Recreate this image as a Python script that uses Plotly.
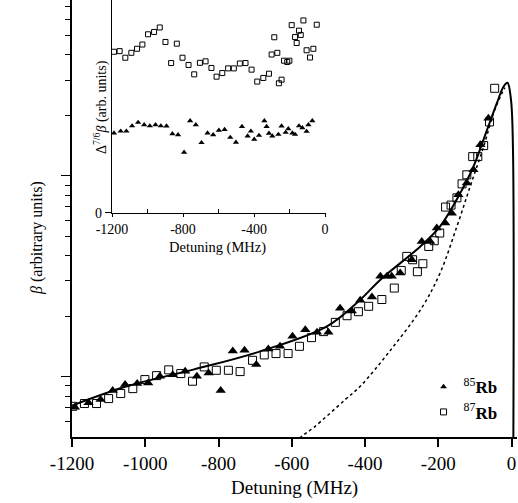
import plotly.graph_objects as go

# main panel data, detuning in MHz, beta in arb. units (log axis)
rb85_x = [-1192, -1155, -1122, -1089, -1055, -1022, -992, -960, -925, -891, -859, -827, -794,
          -761, -729, -697, -664, -632, -598, -563, -531, -500, -468, -436, -413, -381, -358,
          -340, -327, -304, -272, -245, -222, -204, -181, -163, -145, -122, -104, -85, -63]
rb85_y = [0.703, 0.740, 0.768, 0.852, 0.912, 0.923, 0.929, 1.003, 1.02, 1.063, 1.003, 1.043, 0.852,
          1.342, 1.352, 1.147, 1.374, 1.415, 1.587, 1.713, 1.661, 1.661, 2.187, 2.124, 2.399, 2.49, 3.16,
          3.16, 3.16, 3.28, 3.82, 4.71, 4.71, 5.49, 5.82, 6.52, 8.05, 9.2, 10.71, 14.27, 19.37]

rb87_x = [-1198, -1166, -1133, -1100, -1067, -1034, -1001, -969, -936, -903, -871, -839, -806,
          -773, -741, -707, -675, -643, -610, -579, -546, -513, -481, -449, -418, -390, -354,
          -320, -301, -286, -270, -257, -242, -226, -211, -196, -180, -165, -149, -135, -122,
          -106, -92, -76, -60, -46]
rb87_y = [0.711, 0.734, 0.734, 0.777, 0.823, 0.871, 0.966, 1.011, 1.08, 1.035, 0.948, 1.117, 1.075,
          1.075, 1.059, 1.205, 1.282, 1.302, 1.302, 1.415, 1.563, 1.675, 1.862, 2.01, 2.105, 2.24, 2.42,
          2.76, 3.38, 3.97, 3.82, 3.33, 3.65, 4.45, 4.75, 5.19, 6.99, 7.15, 7.77, 9.12, 10.12,
          12.47, 12.47, 14.15, 18.56, 27.3]

# theory curves
fit_x = [-1200, -1050, -869, -686, -504, -413, -358, -249, -195, -140, -104, -67, -40, -22, -11, -1.4, 4, 5]
fit_y = [0.717, 0.895, 1.083, 1.336, 1.779, 2.416, 3.04, 4.45, 5.6, 8.2, 11.1, 16.9, 23.0, 27.8, 29.1, 23.9, 13.5, 0.45]

dot_x = [-590, -572, -541, -454, -413, -331, -245, -195, -149, -113, -76, -49, -26, -18]
dot_y = [0.47, 0.505, 0.556, 0.768, 0.895, 1.35, 2.20, 3.28, 5.6, 8.85, 14.0, 20.5, 25.8, 27.5]

# inset: Delta^(7/6) * beta
in87_x = [-1189, -1157, -1125, -1091, -1059, -1029, -997, -963, -931, -899, -867, -835, -803, -769,
          -737, -705, -673, -640, -611, -579, -546, -514, -480, -448, -414, -382, -348, -316, -301,
          -286, -269, -260, -245, -231, -213, -201, -188, -169, -160, -147, -137, -122, -104, -85, -66, -47]
in87_y = [7.57, 7.60, 7.29, 7.52, 7.71, 7.91, 8.39, 8.50, 8.71, 8.03, 7.04, 7.95, 7.29, 6.95,
          6.51, 7.05, 7.12, 6.81, 6.40, 6.57, 6.79, 6.79, 7.02, 7.04, 6.73, 6.17, 6.34, 6.54, 7.44,
          8.25, 7.52, 6.09, 6.26, 7.15, 7.09, 7.15, 8.82, 8.26, 7.98, 8.56, 8.36, 9.04, 7.64, 7.30, 7.71, 8.84]

in85_x = [-1189, -1151, -1119, -1087, -1053, -1019, -987, -955, -925, -893, -860, -828, -794, -760,
          -728, -696, -662, -630, -598, -566, -534, -502, -468, -436, -418, -399, -372, -342, -329,
          -316, -297, -263, -245, -222, -207, -184, -169, -147, -128, -104, -94, -72]
in85_y = [3.75, 3.84, 3.84, 4.09, 4.25, 4.14, 4.09, 4.14, 4.09, 4.08, 3.72, 3.67, 2.85, 4.33,
          4.14, 3.30, 3.75, 3.67, 3.88, 3.92, 3.55, 3.32, 4.06, 3.61, 3.84, 3.46, 3.64, 4.33, 4.06,
          3.74, 3.61, 3.69, 4.08, 3.78, 3.95, 3.75, 3.69, 4.09, 4.0, 3.83, 4.14, 4.33]

main_xticks = [-1200, -1000, -800, -600, -400, -200, 0]
inset_xticks = [-1200, -800, -400, 0]
minor_y = [0.6, 0.7, 0.8, 0.9, 2, 3, 4, 5, 6, 7, 8, 9, 20, 30, 40, 50, 60, 70]

FONT = "Liberation Serif"

fig = go.Figure()

fig.add_trace(go.Scatter(x=fit_x, y=fit_y, mode="lines", line=dict(color="black", width=2, shape="spline"),
                         showlegend=False))
fig.add_trace(go.Scatter(x=dot_x, y=dot_y, mode="lines", line=dict(color="black", width=1.5, dash="dot", shape="spline"),
                         showlegend=False))
fig.add_trace(go.Scatter(x=rb87_x, y=rb87_y, mode="markers", showlegend=False,
                         marker=dict(symbol="square-open", size=8, color="black", line=dict(width=1))))
fig.add_trace(go.Scatter(x=rb85_x, y=rb85_y, mode="markers", showlegend=False,
                         marker=dict(symbol="triangle-up", size=9, color="black")))
# legend entries (smaller markers like the original key)
fig.add_trace(go.Scatter(x=[None], y=[None], mode="markers", name="<sup>85</sup><b>Rb</b>",
                         marker=dict(symbol="triangle-up", size=6, color="black")))
fig.add_trace(go.Scatter(x=[None], y=[None], mode="markers", name="<sup>87</sup><b>Rb</b>",
                         marker=dict(symbol="square-open", size=6, color="black", line=dict(width=1))))

# inset
fig.add_trace(go.Scatter(x=in87_x, y=in87_y, mode="markers", xaxis="x2", yaxis="y2", showlegend=False,
                         marker=dict(symbol="square-open", size=5, color="black", line=dict(width=1))))
fig.add_trace(go.Scatter(x=in85_x, y=in85_y, mode="markers", xaxis="x2", yaxis="y2", showlegend=False,
                         marker=dict(symbol="triangle-up", size=5.5, color="black")))

fig.update_layout(
    width=518, height=503,
    margin=dict(l=72, r=1, t=0, b=66),
    paper_bgcolor="white", plot_bgcolor="white",
    font=dict(family=FONT, color="black", size=19),
    xaxis=dict(range=[-1200, 15], showline=True, linecolor="black", linewidth=1.5,
               ticks="outside", ticklen=8, tickwidth=1.5, tickcolor="black",
               tickvals=main_xticks, ticktext=[str(v) for v in main_xticks],
               showgrid=False, zeroline=False, tickfont=dict(size=19)),
    yaxis=dict(type="log", range=[-0.301, 1.876], showline=True, linecolor="black", linewidth=1.5,
               ticks="outside", ticklen=9, tickwidth=1.2, tickcolor="black", tickvals=[1, 10],
               showticklabels=False, showgrid=False, zeroline=False,
               minor=dict(tickvals=minor_y, ticks="outside", ticklen=5, tickwidth=1, tickcolor="black",
                          showgrid=False)),
    xaxis2=dict(domain=[0.0899, 0.5719], anchor="y2", range=[-1200, 8], showline=True, linecolor="black",
                linewidth=1.3, ticks="outside", ticklen=3, tickwidth=1, tickcolor="black",
                tickvals=inset_xticks, ticktext=[str(v) for v in inset_xticks],
                showgrid=False, zeroline=False, tickfont=dict(size=14),
                minor=dict(tickvals=[-1000, -600, -200], ticks="inside", ticklen=4, tickcolor="black",
                           showgrid=False)),
    yaxis2=dict(domain=[0.5126, 1], anchor="x2", range=[0, 10], showline=True, linecolor="black",
                linewidth=1.3, ticks="outside", ticklen=6, tickcolor="black", tickvals=[0], ticktext=["0"],
                showgrid=False, zeroline=False, tickfont=dict(size=14)),
    legend=dict(x=0.79, y=0.155, xanchor="left", yanchor="top", bgcolor="rgba(0,0,0,0)",
                font=dict(size=17), tracegroupgap=0, itemwidth=30),
    annotations=[
        dict(text="Detuning (MHz)", xref="paper", yref="paper", x=0.5, y=-0.117, xanchor="center",
             yanchor="middle", showarrow=False, font=dict(size=19)),
        dict(text="<i>β</i> (arbitrary units)", xref="paper", yref="paper", x=-0.079, y=0.455,
             xanchor="center", yanchor="middle", textangle=-90, showarrow=False, font=dict(size=16)),
        dict(text="Detuning (MHz)", xref="paper", yref="paper", x=0.328, y=0.434, xanchor="center",
             yanchor="middle", showarrow=False, font=dict(size=14.5)),
        dict(text="Δ<sup>7/6</sup><i>β</i> (arb. units)", xref="paper", yref="paper", x=0.063, y=0.755,
             xanchor="center", yanchor="middle", textangle=-90, showarrow=False, font=dict(size=14)),
    ],
)

fig.write_html("out.html", config={"displayModeBar": False},
               post_script="document.body.style.margin='0';")
